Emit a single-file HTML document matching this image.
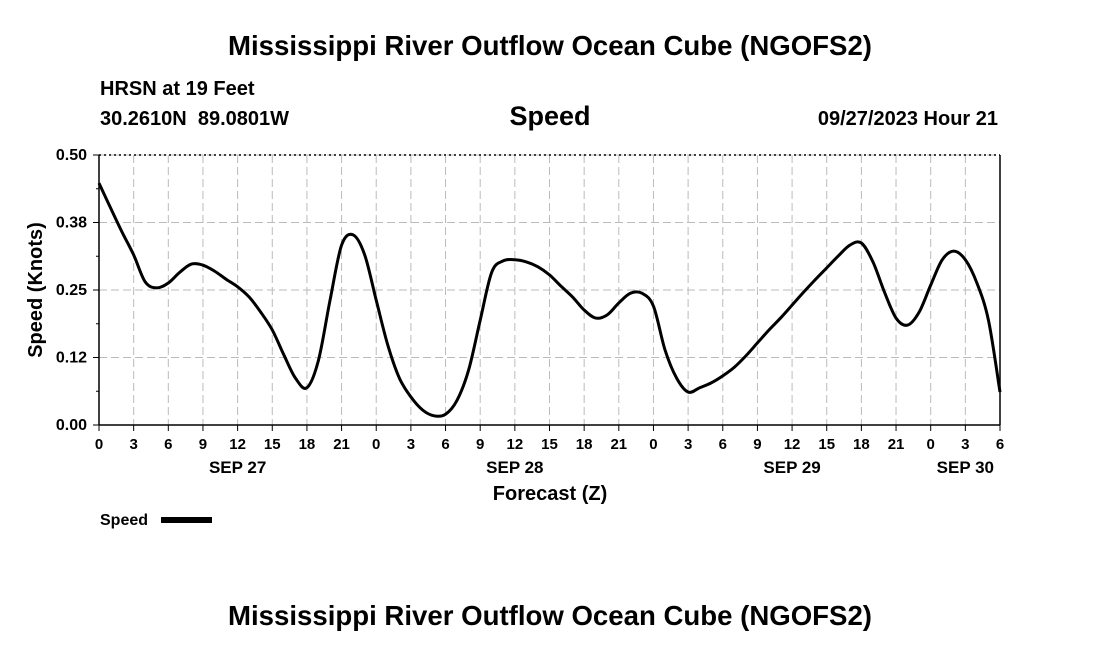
<!DOCTYPE html>
<html><head><meta charset="utf-8"><style>
body{margin:0;background:#fff;width:1100px;height:650px;overflow:hidden}
svg{display:block;font-family:"Liberation Sans",Arial,sans-serif;font-weight:bold}
</style></head><body>
<svg id="c" width="1100" height="650" viewBox="0 0 1100 650">
<text x="550" y="55" text-anchor="middle" font-size="27.6">Mississippi River Outflow Ocean Cube (NGOFS2)</text>
<text x="100" y="95" font-size="20">HRSN at 19 Feet</text>
<text x="100" y="125" font-size="20" style="white-space:pre">30.2610N  89.0801W</text>
<text x="550" y="125" text-anchor="middle" font-size="27">Speed</text>
<text x="998" y="125" text-anchor="end" font-size="20">09/27/2023 Hour 21</text>
<g id="grid"></g><g id="axes"></g><g id="series"></g>
<text x="550" y="500" text-anchor="middle" font-size="20">Forecast (Z)</text>
<text transform="translate(42,290) rotate(-90)" text-anchor="middle" font-size="20">Speed (Knots)</text>
<g>
<text x="100" y="525" font-size="16">Speed</text>
<rect x="161" y="517" width="51" height="6" fill="#000"></rect>
</g>
<text x="550" y="625" text-anchor="middle" font-size="27.6">Mississippi River Outflow Ocean Cube (NGOFS2)</text>
</svg>
<script>
const speedValues=[0.448,0.402,0.357,0.315,0.265,0.254,0.263,0.283,0.298,0.296,0.285,0.270,0.256,0.237,0.209,0.176,0.130,0.087,0.069,0.120,0.231,0.333,0.352,0.315,0.231,0.148,0.087,0.052,0.028,0.017,0.020,0.046,0.102,0.194,0.283,0.304,0.306,0.302,0.293,0.278,0.257,0.237,0.213,0.198,0.204,0.226,0.244,0.244,0.220,0.139,0.087,0.061,0.069,0.078,0.091,0.107,0.128,0.152,0.176,0.198,0.222,0.246,0.269,0.291,0.313,0.333,0.337,0.302,0.246,0.198,0.185,0.209,0.259,0.306,0.322,0.306,0.263,0.194,0.061];
const yTickValues=[0,0.125,0.25,0.375,0.5];
const yTickLabels=["0.00","0.12","0.25","0.38","0.50"];
const xTickHours=[0,3,6,9,12,15,18,21,24,27,30,33,36,39,42,45,48,51,54,57,60,63,66,69,72,75,78];
const dayLabels=["SEP 27","SEP 28","SEP 29","SEP 30"];
const dayLabelHours=[12,36,60,75];
const X0=99,X1=1000,Y0=425,Y1=155,HMAX=78,VMAX=0.5;
const xs=h=>X0+(X1-X0)*h/HMAX, ys=v=>Y0-(Y0-Y1)*v/VMAX;
const NS="http://www.w3.org/2000/svg";
function mk(t,a,p){const e=document.createElementNS(NS,t);for(const k in a)e.setAttribute(k,a[k]);p.appendChild(e);return e;}
const grid=document.getElementById('grid'),axes=document.getElementById('axes'),series=document.getElementById('series');
yTickValues.forEach((v,i)=>{
 const g=mk('line',{x1:X0,x2:X1,y1:ys(v),y2:ys(v),stroke:'#bbb','stroke-dasharray':'8,4'},grid);
 
 
 mk('line',{x1:X0-6,x2:X0,y1:ys(v),y2:ys(v),stroke:'#000'},axes);
 const t=mk('text',{x:X0-12,y:ys(v)+5,'text-anchor':'end','font-size':16},axes);t.textContent=yTickLabels[i];
 
 
});
for(let i=0;i<yTickValues.length-1;i++){const m=(yTickValues[i]+yTickValues[i+1])/2;mk('line',{x1:X0-3,x2:X0,y1:ys(m),y2:ys(m),stroke:'#000'},axes);}
xTickHours.forEach(h=>{
 const g=mk('line',{x1:xs(h),x2:xs(h),y1:Y1,y2:Y0,stroke:'#bbb','stroke-dasharray':'8,4'},grid);
 
 
 mk('line',{x1:xs(h),x2:xs(h),y1:Y0,y2:Y0+6,stroke:'#000'},axes);
 const t=mk('text',{x:xs(h),y:Y0+24,'text-anchor':'middle','font-size':15},axes);t.textContent=String(h%24);
 
 
});
dayLabels.forEach((d,i)=>{
 const t=mk('text',{x:xs(dayLabelHours[i]),y:Y0+48,'text-anchor':'middle','font-size':17},axes);t.textContent=d;
 
 
});
const topBorder=mk('line',{x1:X0,x2:X1,y1:Y1,y2:Y1,stroke:'#000','stroke-dasharray':'2,3','stroke-width':1.5},axes);


mk('line',{x1:X0,x2:X1,y1:Y0,y2:Y0,stroke:'#000','stroke-width':1.5},axes);
mk('line',{x1:X0,x2:X0,y1:Y1,y2:Y0,stroke:'#000','stroke-width':1.5},axes);
mk('line',{x1:X1,x2:X1,y1:Y1,y2:Y0,stroke:'#000','stroke-width':1.5},axes);
const pts=speedValues.map((v,i)=>[xs(i*HMAX/(speedValues.length-1)),ys(v)]);
let d='M'+pts[0][0]+','+pts[0][1];
for(let i=0;i<pts.length-1;i++){const p0=pts[Math.max(0,i-1)],p1=pts[i],p2=pts[i+1],p3=pts[Math.min(pts.length-1,i+2)];
 d+=` C${p1[0]+(p2[0]-p0[0])/6},${p1[1]+(p2[1]-p0[1])/6} ${p2[0]-(p3[0]-p1[0])/6},${p2[1]-(p3[1]-p1[1])/6} ${p2[0]},${p2[1]}`;}
const speedLine=mk('path',{d:d,fill:'none',stroke:'#000','stroke-width':3,'stroke-linejoin':'round'},series);


</script>
</body></html>
